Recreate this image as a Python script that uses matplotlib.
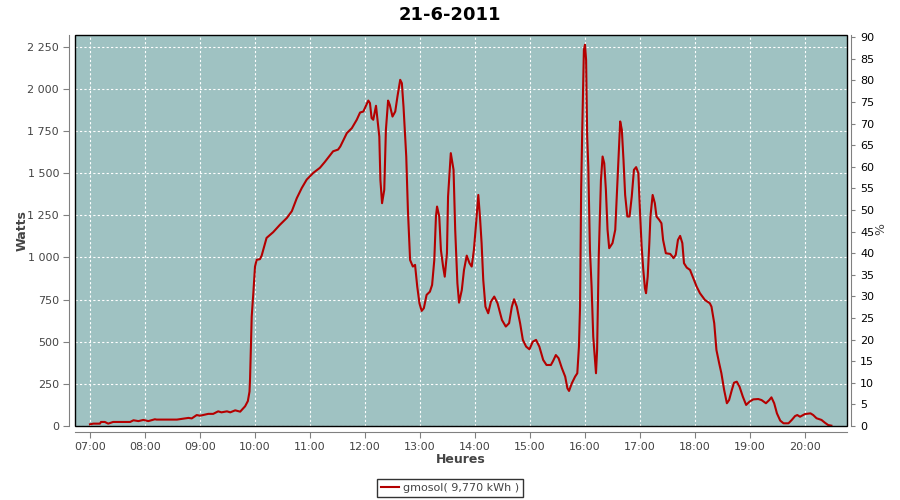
import matplotlib
matplotlib.use('Agg')
import matplotlib.pyplot as plt
from matplotlib.patches import Rectangle
from matplotlib.ticker import FuncFormatter

# decimal hours and watts
hours = [7.00, 7.06, 7.18, 7.20, 7.27, 7.33, 7.42, 7.73, 7.79, 7.88, 7.97, 8.06, 8.18, 8.21,
         8.58, 8.73, 8.79, 8.85, 8.94, 9.00, 9.15, 9.24, 9.33, 9.39, 9.49, 9.55, 9.64, 9.73,
         9.82, 9.87, 9.90, 9.91, 9.94, 9.97, 10.00, 10.03, 10.09, 10.12, 10.15, 10.21, 10.33,
         10.45, 10.58, 10.67, 10.76, 10.85, 10.94, 11.06, 11.18, 11.27, 11.42, 11.51,
         11.55, 11.67, 11.76, 11.85, 11.91, 11.97, 12.06, 12.09, 12.12, 12.15, 12.20, 12.26,
         12.28, 12.31, 12.35, 12.38, 12.42, 12.45, 12.50, 12.55, 12.59, 12.64, 12.67, 12.70,
         12.75, 12.78, 12.82, 12.87, 12.91, 12.95, 12.99, 13.03, 13.07, 13.12, 13.18, 13.22,
         13.26, 13.29, 13.31, 13.35, 13.38, 13.42, 13.45, 13.49, 13.51, 13.56, 13.61, 13.64,
         13.68, 13.71, 13.76, 13.80, 13.85, 13.90, 13.94, 13.98, 14.02, 14.06, 14.09, 14.12,
         14.15, 14.19, 14.24, 14.29, 14.35, 14.41, 14.49, 14.56, 14.62, 14.67, 14.71, 14.76,
         14.82, 14.87, 14.93, 14.99, 15.05, 15.11, 15.17, 15.24, 15.30, 15.38, 15.42, 15.47,
         15.52, 15.58, 15.64, 15.68, 15.71, 15.76, 15.82, 15.86, 15.89, 15.91, 15.93, 15.95,
         15.98, 16.00, 16.02, 16.04, 16.06, 16.09, 16.12, 16.15, 16.18, 16.20, 16.22, 16.25,
         16.29, 16.32, 16.35, 16.38, 16.41, 16.44, 16.50, 16.55, 16.58, 16.61, 16.64, 16.67,
         16.70, 16.73, 16.77, 16.81, 16.85, 16.89, 16.93, 16.97, 17.00, 17.03, 17.06, 17.09,
         17.11, 17.14, 17.17, 17.19, 17.23, 17.27, 17.30, 17.35, 17.39, 17.42, 17.47, 17.55,
         17.61, 17.65, 17.69, 17.73, 17.77, 17.80, 17.85, 17.91, 17.97, 18.03, 18.09, 18.18,
         18.27, 18.30, 18.35, 18.39, 18.44, 18.48, 18.53, 18.58, 18.62, 18.67, 18.71, 18.76,
         18.81, 18.87, 18.93, 18.99, 19.06, 19.15, 19.21, 19.29, 19.35, 19.39, 19.44, 19.49,
         19.55, 19.61, 19.70, 19.76, 19.82, 19.86, 19.91, 20.00, 20.10, 20.15, 20.21, 20.30,
         20.36, 20.42, 20.48]
watts = [10, 14, 14, 24, 24, 14, 24, 24, 34, 29, 36, 29, 40, 38,
         38, 45, 48, 45, 65, 61, 72, 72, 87, 81, 87, 81, 93, 85,
         117, 148, 204, 280, 649, 790, 946, 986, 990, 1010, 1046, 1116, 1150,
         1193, 1235, 1275, 1352, 1412, 1462, 1502, 1532, 1567, 1630, 1640,
         1658, 1738, 1767, 1817, 1860, 1866, 1931, 1916, 1827, 1817, 1900, 1718,
         1460, 1322, 1401, 1757, 1931, 1906, 1836, 1866, 1955, 2054, 2034, 1896,
         1599, 1282, 985, 946, 956, 827, 728, 683, 699, 778, 797, 837,
         985, 1243, 1302, 1243, 1045, 946, 886, 1025, 1361, 1619, 1520, 1164,
         847, 732, 807, 926, 1011, 966, 946, 1045, 1203, 1371, 1243, 1085,
         867, 708, 669, 738, 768, 728, 629, 590, 610, 708, 752, 708,
         610, 511, 471, 455, 500, 511, 471, 392, 362, 362, 386, 421,
         402, 343, 293, 224, 208, 253, 293, 313, 471, 708, 1401, 1757,
         2232, 2262, 2173, 1718, 1539, 1045, 827, 530, 402, 313, 451, 1005,
         1460, 1599, 1559, 1401, 1164, 1055, 1085, 1164, 1381, 1599, 1807, 1757,
         1579, 1371, 1243, 1243, 1361, 1520, 1536, 1500, 1272, 1065, 926, 817,
         788, 886, 1085, 1243, 1371, 1322, 1243, 1223, 1203, 1104, 1025, 1021,
         996, 1015, 1104, 1128, 1085, 966, 940, 926, 877, 827, 788, 748,
         728, 708, 610, 451, 372, 313, 214, 135, 154, 214, 257, 263,
         233, 174, 125, 144, 158, 160, 154, 135, 154, 170, 135, 75,
         32, 16, 16, 36, 59, 65, 55, 71, 75, 65, 46, 36,
         20, 6, 2]

hour_ticks = list(range(7, 21))
watt_ticks = list(range(0, 2251, 250))
pct_ticks = list(range(0, 91, 5))
legend_label = 'gmosol( 9,770 kWh )'

plt.rcParams['font.family'] = ['DejaVu Sans']

fig = plt.figure(figsize=(9, 5), dpi=100)
ax = fig.add_axes([75/900, 1 - 426/500, 772/900, 391/500])
ax.set_facecolor('#9fc2c2')

line, = ax.plot(hours, watts, color='#b40000', lw=1.5, label=legend_label)

ax.set_xlim(6.727, 20.764)
ax.set_ylim(0, 2320)
ax.set_xticks(hour_ticks)
ax.xaxis.set_major_formatter(FuncFormatter(lambda v, p: '%02d:00' % int(round(v))))
ax.set_yticks(watt_ticks)
ax.yaxis.set_major_formatter(FuncFormatter(lambda v, p: '{:,}'.format(int(v)).replace(',', ' ')))
ax.grid(True, color='white', linestyle=(0, (2, 2)), linewidth=0.8)

for s in ['top', 'right']:
    ax.spines[s].set_visible(False)
for s in ['left', 'bottom']:
    ax.spines[s].set_position(('outward', 4))
    ax.spines[s].set_color('#808080')
ax.tick_params(colors='#808080', labelcolor='#444444', labelsize=8, length=4, direction='out')

ax2 = ax.twinx()
ax2.set_ylim(0, 90.5)
ax2.set_yticks(pct_ticks)
for s in ['top', 'left', 'bottom']:
    ax2.spines[s].set_visible(False)
ax2.spines['right'].set_position(('outward', 3))
ax2.spines['right'].set_color('#808080')
ax2.tick_params(colors='#808080', labelcolor='black', labelsize=8, length=3, direction='out')

# black plot outline
ax.add_patch(Rectangle((0, 0), 1, 1, transform=ax.transAxes, fill=False,
                       edgecolor='black', lw=1, clip_on=False, zorder=5))

fig.text(0.5, 1 - 15/500, '21-6-2011', ha='center', va='center', fontsize=13, fontweight='bold')
ax.set_ylabel('Watts', fontsize=9, fontweight='bold', color='#444444', labelpad=-1)
ax.set_xlabel('Heures', fontsize=9, fontweight='bold', color='#444444', labelpad=1)
fig.text(881/900, 1 - 229/500, '%', rotation=90, ha='center', va='center',
         fontsize=9, color='#444444')

leg = fig.legend(handles=[line], loc='center', bbox_to_anchor=(0.5, 1 - 488/500),
                 fontsize=8, frameon=True, fancybox=False, handlelength=1.6,
                 borderpad=0.35, handletextpad=0.4)
leg.get_frame().set_edgecolor('black')
leg.get_frame().set_linewidth(1)
for t in leg.get_texts():
    t.set_color('#444444')

fig.savefig('out.png', dpi=100)
